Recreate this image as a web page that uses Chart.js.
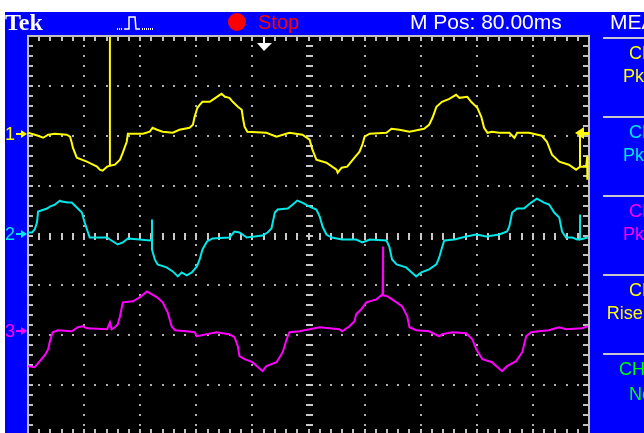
<!DOCTYPE html>
<html>
<head>
<meta charset="utf-8">
<script src="https://cdn.jsdelivr.net/npm/chart.js@4.4.1/dist/chart.umd.min.js"></script>
<style>
html, body { margin: 0; padding: 0; background: #fff; overflow: hidden; }
canvas { display: block; }
</style>
</head>
<body>
<canvas id="scopeChart" width="644" height="436" style="width:644px;height:436px"></canvas>
<script>
// screen is 10 x 8 divisions, values below are in divisions
const ch1Time = [
    0.00, 0.18, 0.27, 0.36, 0.48, 0.69, 0.75, 0.78, 0.80, 0.87,
    1.05, 1.23, 1.28, 1.33, 1.41, 1.46, 1.46, 1.46, 1.55, 1.64,
    1.69, 1.76, 1.78, 2.05, 2.17, 2.22, 2.30, 2.40, 2.58, 2.70,
    2.88, 2.94, 2.97, 3.02, 3.06, 3.11, 3.24, 3.29, 3.42, 3.45,
    3.51, 3.59, 3.65, 3.74, 3.81, 3.83, 3.86, 3.91, 4.25, 4.43,
    4.66, 4.89, 5.02, 5.07, 5.14, 5.32, 5.50, 5.52, 5.59, 5.69,
    5.82, 5.91, 5.96, 6.00, 6.09, 6.39, 6.48, 6.62, 6.80, 7.06,
    7.15, 7.21, 7.28, 7.38, 7.51, 7.63, 7.69, 7.83, 7.90, 8.01,
    8.08, 8.13, 8.19, 8.27, 8.40, 8.58, 8.67, 8.72, 8.93, 9.16,
    9.25, 9.34, 9.47, 9.64, 9.77, 9.84, 9.84, 9.84, 9.95, 9.97,
    9.97
];
const ch1Level = [
    2.06, 2.00, 1.96, 2.02, 2.04, 2.02, 1.98, 1.86, 1.76, 1.56,
    1.48, 1.38, 1.32, 1.30, 1.38, 1.40, 3.98, 1.40, 1.42, 1.52,
    1.66, 1.88, 2.04, 2.04, 2.08, 2.16, 2.12, 2.08, 2.06, 2.12,
    2.16, 2.22, 2.38, 2.56, 2.62, 2.68, 2.68, 2.72, 2.82, 2.84,
    2.78, 2.76, 2.68, 2.58, 2.52, 2.36, 2.18, 2.08, 2.06, 1.98,
    2.06, 2.02, 1.92, 1.72, 1.52, 1.46, 1.32, 1.26, 1.36, 1.38,
    1.56, 1.68, 1.82, 1.98, 2.04, 2.06, 2.14, 2.12, 2.08, 2.14,
    2.22, 2.36, 2.58, 2.68, 2.74, 2.82, 2.76, 2.78, 2.68, 2.56,
    2.38, 2.16, 2.06, 2.08, 2.06, 2.06, 1.96, 2.06, 2.06, 2.00,
    1.88, 1.62, 1.48, 1.42, 1.32, 1.38, 2.06, 1.38, 1.38, 1.60,
    1.12
];

const ch2Time = [
    0.00, 0.07, 0.12, 0.16, 0.18, 0.34, 0.39, 0.48, 0.57, 0.60,
    0.71, 0.78, 0.87, 0.96, 1.01, 1.07, 1.10, 1.23, 1.41, 1.46,
    1.60, 1.69, 1.78, 1.99, 2.17, 2.21, 2.21, 2.21, 2.26, 2.31,
    2.47, 2.58, 2.67, 2.74, 2.83, 2.92, 3.01, 3.06, 3.11, 3.19,
    3.29, 3.59, 3.68, 3.77, 3.90, 4.18, 4.27, 4.34, 4.40, 4.45,
    4.63, 4.72, 4.80, 4.89, 5.02, 5.14, 5.20, 5.25, 5.32, 5.41,
    5.60, 5.85, 5.96, 6.09, 6.39, 6.44, 6.49, 6.57, 6.74, 6.92,
    7.01, 7.15, 7.28, 7.33, 7.38, 7.42, 7.60, 7.81, 7.99, 8.17,
    8.40, 8.54, 8.58, 8.63, 8.72, 8.84, 8.97, 9.07, 9.20, 9.29,
    9.38, 9.47, 9.52, 9.59, 9.70, 9.79, 9.84, 9.84, 9.84, 9.98
];
const ch2Level = [
    0.06, 0.06, 0.12, 0.26, 0.48, 0.54, 0.58, 0.62, 0.70, 0.68,
    0.66, 0.66, 0.56, 0.46, 0.26, 0.06, -0.04, -0.04, -0.04, -0.08,
    -0.18, -0.14, -0.06, -0.08, -0.10, -0.08, 0.32, -0.28, -0.48, -0.58,
    -0.64, -0.72, -0.82, -0.74, -0.80, -0.74, -0.62, -0.48, -0.28, -0.12,
    -0.06, -0.04, 0.08, 0.06, -0.04, 0.00, 0.06, 0.14, 0.46, 0.52,
    0.54, 0.62, 0.70, 0.66, 0.58, 0.52, 0.38, 0.18, 0.02, -0.04,
    -0.08, -0.08, -0.14, -0.08, -0.10, -0.22, -0.48, -0.58, -0.64, -0.82,
    -0.74, -0.68, -0.58, -0.44, -0.24, -0.10, -0.08, -0.02, 0.02, -0.02,
    0.02, 0.08, 0.18, 0.46, 0.54, 0.54, 0.66, 0.74, 0.66, 0.62,
    0.46, 0.36, 0.08, -0.04, -0.04, -0.08, -0.08, 0.42, -0.08, -0.04
];

const ch3Time = [
    0.00, 0.12, 0.21, 0.30, 0.36, 0.39, 0.44, 0.53, 0.78, 0.89,
    0.98, 1.05, 1.41, 1.46, 1.49, 1.55, 1.60, 1.64, 1.69, 1.87,
    1.99, 2.12, 2.21, 2.30, 2.40, 2.49, 2.56, 2.62, 2.83, 2.97,
    3.01, 3.36, 3.59, 3.68, 3.74, 3.77, 3.86, 4.00, 4.18, 4.25,
    4.43, 4.54, 4.61, 4.66, 4.84, 5.02, 5.20, 5.55, 5.60, 5.73,
    5.82, 5.85, 5.94, 6.03, 6.21, 6.32, 6.33, 6.33, 6.41, 6.57,
    6.67, 6.76, 6.80, 6.92, 7.15, 7.33, 7.38, 7.56, 7.81, 7.92,
    7.99, 8.10, 8.27, 8.45, 8.54, 8.70, 8.81, 8.88, 8.97, 9.11,
    9.29, 9.34, 9.47, 9.59, 9.88, 9.98
];
const ch3Level = [
    -2.62, -2.64, -2.52, -2.40, -2.28, -2.12, -1.94, -1.90, -1.92, -1.84,
    -1.82, -1.86, -1.88, -1.74, -1.88, -1.84, -1.78, -1.62, -1.34, -1.32,
    -1.24, -1.12, -1.18, -1.24, -1.34, -1.54, -1.82, -1.90, -1.92, -1.94,
    -2.02, -1.94, -1.98, -2.04, -2.22, -2.42, -2.48, -2.54, -2.72, -2.62,
    -2.54, -2.34, -2.08, -1.94, -1.92, -1.88, -1.84, -1.88, -1.92, -1.82,
    -1.72, -1.58, -1.48, -1.34, -1.28, -1.18, -0.22, -1.20, -1.22, -1.34,
    -1.42, -1.62, -1.84, -1.90, -1.92, -2.02, -1.98, -1.94, -1.96, -2.08,
    -2.28, -2.48, -2.54, -2.72, -2.62, -2.52, -2.34, -2.02, -1.94, -1.92,
    -1.90, -1.88, -1.84, -1.88, -1.86, -1.82
];

const channelNames = ['1', '2', '3'];
const channelPositions = [2.04, 0.04, -1.92];
const channelColors = ['#FFFF00', '#00E8E8', '#FF00FF'];
const triggerLevel = 2.06;
const triggerTime = 4.20;

const measureTitles = ['CH1', 'CH2', 'CH3', 'CH1', 'CH4'];
const measureNames = ['Pk-Pk', 'Pk-Pk', 'Pk-Pk', 'Rise Time', 'None'];
const measureColors = ['#FFFF00', '#00E8E8', '#FF00FF', '#FFFF00', '#00FF00'];

function toPoints(xs, ys) {
    return xs.map((x, i) => ({ x: x, y: ys[i] }));
}

function drawGraticule(chart) {
    const { ctx, chartArea: a } = chart;
    const xs = chart.scales.x, ys = chart.scales.y;
    ctx.save();
    ctx.fillStyle = '#000';
    ctx.fillRect(a.left, a.top, a.right - a.left, a.bottom - a.top);

    // dotted division lines
    ctx.fillStyle = '#b0b0b0';
    for (let i = 1; i < 10; i++) {
        if (i === 5) continue;
        const px = Math.round(xs.getPixelForValue(i));
        for (let k = 1; k < 40; k++) {
            const py = Math.round(ys.getPixelForValue(-4 + k * 0.2));
            ctx.fillRect(px - 1, py - 1, 2, 2);
        }
    }
    for (let j = -3; j <= 3; j++) {
        if (j === 0) continue;
        const py = Math.round(ys.getPixelForValue(j));
        for (let k = 1; k < 50; k++) {
            const px = Math.round(xs.getPixelForValue(k * 0.2));
            ctx.fillRect(px - 1, py - 1, 2, 2);
        }
    }

    // centre cross with minor ticks
    ctx.fillStyle = '#c8c8c8';
    const cx = Math.round(xs.getPixelForValue(5));
    const cy = Math.round(ys.getPixelForValue(0));
    for (let k = 1; k < 40; k++) {
        const py = Math.round(ys.getPixelForValue(-4 + k * 0.2));
        ctx.fillRect(cx - 3, py - 1, 7, 2);
    }
    for (let k = 1; k < 50; k++) {
        const px = Math.round(xs.getPixelForValue(k * 0.2));
        ctx.fillRect(px - 1, cy - 3, 2, 7);
    }

    // border with inward ticks
    ctx.fillStyle = '#c0c0c0';
    ctx.fillRect(a.left - 1, a.top - 1, a.right - a.left + 2, 2);
    ctx.fillRect(a.left - 1, a.bottom - 1, a.right - a.left + 2, 2);
    ctx.fillRect(a.left - 1, a.top - 1, 2, a.bottom - a.top + 2);
    ctx.fillRect(a.right - 1, a.top - 1, 2, a.bottom - a.top + 2);
    for (let k = 1; k < 50; k++) {
        const px = Math.round(xs.getPixelForValue(k * 0.2));
        ctx.fillRect(px - 1, a.top, 2, 5);
        ctx.fillRect(px - 1, a.bottom - 6, 2, 6);
    }
    for (let k = 1; k < 40; k++) {
        const py = Math.round(ys.getPixelForValue(-4 + k * 0.2));
        ctx.fillRect(a.left, py - 1, 5, 2);
        ctx.fillRect(a.right - 6, py - 1, 6, 2);
    }
    ctx.restore();
}

function drawFrame(chart) {
    const { ctx, width, height } = chart;
    ctx.save();
    ctx.fillStyle = '#ffffff';
    ctx.fillRect(0, 0, width, height);
    ctx.fillStyle = '#0000ff';
    ctx.fillRect(5, 12, width - 5, height - 12);

    ctx.textBaseline = 'alphabetic';
    ctx.fillStyle = '#ffffff';
    ctx.font = 'bold 24px "Liberation Serif"';
    ctx.fillText('Tek', 5, 30);

    // acquisition icon
    ctx.strokeStyle = '#ffffff';
    ctx.fillStyle = '#ffffff';
    ctx.lineWidth = 1.5;
    ctx.beginPath();
    ctx.moveTo(124, 29); ctx.lineTo(129, 29); ctx.lineTo(129, 17);
    ctx.lineTo(135, 17); ctx.lineTo(136, 29); ctx.lineTo(140, 29);
    ctx.stroke();
    for (let i = 0; i < 3; i++) ctx.fillRect(117 + i * 2, 28, 1, 2);
    for (let i = 0; i < 6; i++) ctx.fillRect(142 + i * 2, 28, 1, 2);

    ctx.fillStyle = '#ff0000';
    ctx.beginPath();
    ctx.arc(237, 22, 9, 0, Math.PI * 2);
    ctx.fill();
    ctx.font = '20px "Liberation Sans"';
    ctx.fillText('Stop', 258, 29);

    ctx.fillStyle = '#ffffff';
    ctx.font = '21px "Liberation Sans"';
    ctx.fillText('M Pos: 80.00ms', 410, 29);
    ctx.fillText('MEASURE', 610, 29);

    // measurement panel
    ctx.fillStyle = '#c8c8c8';
    [37, 116, 195, 274, 353].forEach(y => ctx.fillRect(603, y, 41, 2));
    ctx.font = '18px "Liberation Sans"';
    ctx.textAlign = 'center';
    for (let i = 0; i < 4; i++) {
        ctx.fillStyle = measureColors[i];
        ctx.fillText(measureTitles[i], 647, 59 + i * 79);
        ctx.fillText(measureNames[i], 647, 82 + i * 79);
    }
    ctx.textAlign = 'left';
    ctx.fillStyle = measureColors[4];
    ctx.fillText(measureTitles[4], 619, 375);
    ctx.fillText(measureNames[4], 629, 400);
    ctx.restore();
}

function drawMarkers(chart) {
    const { ctx, chartArea: a } = chart;
    const xs = chart.scales.x, ys = chart.scales.y;
    ctx.save();
    ctx.font = '18px "Liberation Sans"';
    ctx.textBaseline = 'middle';
    channelNames.forEach((name, i) => {
        const py = Math.round(ys.getPixelForValue(channelPositions[i]));
        ctx.fillStyle = channelColors[i];
        ctx.strokeStyle = channelColors[i];
        ctx.fillText(name, 5, py + 1);
        ctx.fillRect(16, py - 1, 9, 2);
        ctx.beginPath();
        ctx.moveTo(21, py - 4); ctx.lineTo(27, py); ctx.lineTo(21, py + 4);
        ctx.closePath();
        ctx.fill();
    });

    // trigger position
    const tx = Math.round(xs.getPixelForValue(triggerTime));
    ctx.fillStyle = '#ffffff';
    ctx.fillRect(tx - 1, a.top + 1, 2, 6);
    ctx.beginPath();
    ctx.moveTo(tx - 7, a.top + 7);
    ctx.lineTo(tx + 8, a.top + 7);
    ctx.lineTo(tx, a.top + 15);
    ctx.closePath();
    ctx.fill();

    // trigger level
    const ty = Math.round(ys.getPixelForValue(triggerLevel));
    ctx.fillStyle = channelColors[0];
    ctx.beginPath();
    ctx.moveTo(a.right - 14, ty);
    ctx.lineTo(a.right - 5, ty - 6);
    ctx.lineTo(a.right - 5, ty + 6);
    ctx.closePath();
    ctx.fill();
    ctx.fillRect(a.right - 6, ty - 1, 6, 3);
    ctx.restore();
}

const scopeScreen = {
    id: 'scopeScreen',
    beforeDraw(chart) {
        drawFrame(chart);
        drawGraticule(chart);
    },
    afterDatasetsDraw(chart) {
        drawMarkers(chart);
    }
};

const ctx = document.getElementById('scopeChart').getContext('2d');
const scopeChart = new Chart(ctx, {
    type: 'line',
    data: {
        datasets: [
            { label: 'CH1', data: toPoints(ch1Time, ch1Level), borderColor: channelColors[0] },
            { label: 'CH2', data: toPoints(ch2Time, ch2Level), borderColor: channelColors[1] },
            { label: 'CH3', data: toPoints(ch3Time, ch3Level), borderColor: channelColors[2] }
        ]
    },
    options: {
        responsive: false,
        animation: false,
        events: [],
        layout: {
            padding: { left: 28, right: 55, top: 36, bottom: 1 }
        },
        elements: {
            point: { radius: 0 },
            line: { borderWidth: 2, tension: 0, fill: false }
        },
        scales: {
            x: { type: 'linear', min: 0, max: 10, display: false },
            y: { type: 'linear', min: -4, max: 4, display: false }
        },
        plugins: {
            legend: { display: false },
            tooltip: { enabled: false }
        }
    },
    plugins: [scopeScreen]
});
</script>
</body>
</html>
